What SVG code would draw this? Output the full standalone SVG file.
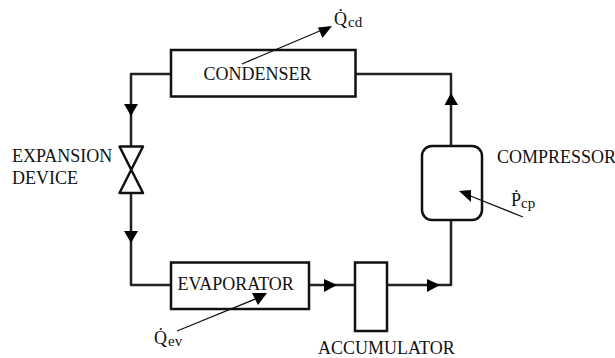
<svg xmlns="http://www.w3.org/2000/svg" width="615" height="358" viewBox="0 0 615 358">
<style>
text{font-family:"Liberation Serif","Times New Roman",serif;font-size:18px;fill:#111}
.sub{font-size:15px}
.box{fill:#fff;stroke:#111;stroke-width:2.500}
.pipe{fill:none;stroke:#222;stroke-width:2.500;stroke-linejoin:round}
.thin{fill:none;stroke:#111;stroke-width:1.300}
.head{fill:#000;stroke:none}
</style>
<rect width="615" height="358" fill="#fff"/>
<g id="connectors">
<path class="pipe" d="M171 74H131V146"/>
<path class="pipe" d="M131 193V285H171"/>
<path class="pipe" d="M355 74H451V146"/>
<path class="pipe" d="M451 220V285H387"/>
<path class="pipe" d="M309 285H355"/>
<polygon class="head" points="124,104 138,104 131,116"/>
<polygon class="head" points="124,231 138,231 131,243"/>
<polygon class="head" points="324,279 324,292 337,285"/>
<polygon class="head" points="427,279 427,292 440,285"/>
<polygon class="head" points="451,93 444.500,105 458,105"/>
</g>
<g id="condenser">
<rect class="box" x="171" y="50" width="184.500" height="46.500"/>
<text x="203.500" y="79.500">CONDENSER</text>
</g>
<g id="expansion-device">
<path d="M119.500 146.500H143L119.500 193H143Z" fill="#fff" stroke="#111" stroke-width="2.500" stroke-linejoin="round"/>
<text x="12" y="162">EXPANSION</text>
<text x="12" y="184">DEVICE</text>
</g>
<g id="evaporator">
<rect class="box" x="171" y="262.500" width="138" height="46.500"/>
<text x="177.500" y="290">EVAPORATOR</text>
</g>
<g id="accumulator">
<rect class="box" x="355" y="262.500" width="32" height="68.500"/>
<text x="318" y="354">ACCUMULATOR</text>
</g>
<g id="compressor">
<rect class="box" x="422" y="146" width="60" height="74" rx="10" ry="10"/>
<text x="497" y="163">COMPRESSOR</text>
</g>
<g id="q-cd">
<line class="thin" x1="242" y1="64" x2="322" y2="30"/>
<polygon class="head" points="332,26 318,27.500 322.500,38"/>
<text x="334" y="25">Q̇<tspan class="sub" dx="1" dy="2">cd</tspan></text>
</g>
<g id="q-ev">
<line class="thin" x1="177" y1="331" x2="258" y2="298"/>
<polygon class="head" points="267,293 252,293 258,305"/>
<text x="154" y="344">Q̇<tspan class="sub" dx="1" dy="2">ev</tspan></text>
</g>
<g id="p-cp">
<line class="thin" x1="523" y1="217" x2="468" y2="195"/>
<polygon class="head" points="459,191 471,190 471,202"/>
<text x="511" y="206">Ṗ<tspan class="sub" dy="2">cp</tspan></text>
</g>
</svg>
